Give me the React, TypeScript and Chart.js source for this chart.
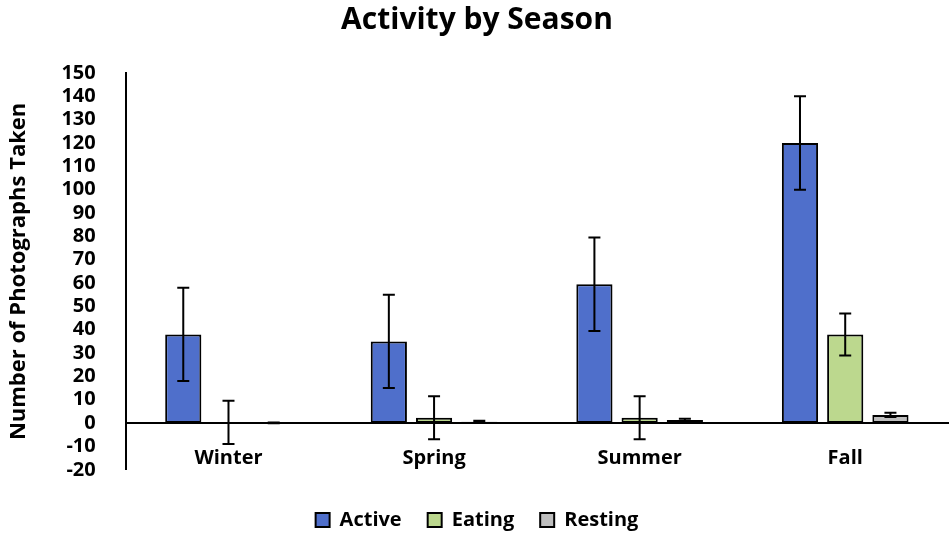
import React, { useRef, useEffect } from 'react';
import { Chart, registerables } from 'chart.js';

Chart.register(...registerables);

const seasons = ['Winter', 'Spring', 'Summer', 'Fall'];
const activeValues = [38, 35, 59.5, 120];
const activeErrors = [20, 20, 20, 20];
const eatingValues = [0.3, 2.3, 2.3, 38];
const eatingErrors = [9.3, 9.2, 9.2, 9];
const restingValues = [0.1, 0.6, 1.3, 3.5];
const restingErrors = [0.2, 0.4, 0.6, 0.9];

const FONT = "'Open Sans', 'Noto Sans', sans-serif";

const errorBars = {
    id: 'errorBars',
    afterDatasetsDraw(chart: any) {
        const { ctx, scales } = chart;
        const yScale = scales.y;
        ctx.save();
        ctx.strokeStyle = '#000';
        ctx.lineWidth = 2;
        chart.data.datasets.forEach((ds: any, i: number) => {
            const meta = chart.getDatasetMeta(i);
            meta.data.forEach((bar: any, j: number) => {
                const v = ds.data[j];
                const e = ds.errors[j];
                const top = yScale.getPixelForValue(v + e);
                const bot = yScale.getPixelForValue(v - e);
                const x = bar.x;
                ctx.beginPath();
                ctx.moveTo(x, top);
                ctx.lineTo(x, bot);
                ctx.moveTo(x - 6, top);
                ctx.lineTo(x + 6, top);
                ctx.moveTo(x - 6, bot);
                ctx.lineTo(x + 6, bot);
                ctx.stroke();
            });
        });
        ctx.restore();
    }
};

const BarChart: React.FC = () => {
    const canvasRef = useRef<HTMLCanvasElement>(null);

    useEffect(() => {
        if (!canvasRef.current) return;
        const ctx = canvasRef.current.getContext('2d');
        if (!ctx) return;
        const barStyle = {
            borderColor: '#000',
            borderWidth: 2,
            borderSkipped: false,
            categoryPercentage: 0.66,
            barPercentage: 0.8
        };
        const chart = new Chart(ctx, {
            type: 'bar',
            data: {
                labels: seasons,
                datasets: [
                    { label: 'Active', data: activeValues, errors: activeErrors, backgroundColor: '#4F6FCB', ...barStyle } as any,
                    { label: 'Eating', data: eatingValues, errors: eatingErrors, backgroundColor: '#BCD88E', ...barStyle } as any,
                    { label: 'Resting', data: restingValues, errors: restingErrors, backgroundColor: '#BEBEBE', ...barStyle } as any
                ]
            },
            options: {
                animation: false,
                responsive: true,
                maintainAspectRatio: false,
                layout: {
                    padding: { left: 6, right: 2, top: 0, bottom: 0 }
                },
                scales: {
                    x: {
                        position: { y: 0 } as any,
                        grid: { display: false },
                        border: { display: true, color: '#000', width: 2 },
                        ticks: {
                            color: '#000',
                            padding: 15,
                            font: { family: FONT, size: 20, weight: 'bold' }
                        }
                    },
                    y: {
                        min: -20,
                        max: 150,
                        grid: { display: false },
                        border: { display: true, color: '#000', width: 2 },
                        ticks: {
                            stepSize: 10,
                            autoSkip: false,
                            color: '#000',
                            padding: 22,
                            font: { family: FONT, size: 20, weight: 'bold' }
                        },
                        title: {
                            display: true,
                            text: 'Number of Photographs Taken',
                            color: '#000',
                            padding: { top: 0, bottom: 7 },
                            font: { family: FONT, size: 22, weight: 'bold' }
                        }
                    }
                },
                plugins: {
                    title: {
                        display: true,
                        text: 'Activity by Season',
                        color: '#000',
                        padding: { top: 2, bottom: 35 },
                        font: { family: FONT, size: 30, weight: 'bold' }
                    },
                    legend: {
                        position: 'bottom',
                        title: {
                            display: true,
                            text: ' ',
                            padding: { top: 0, bottom: 13 },
                            font: { size: 1 }
                        },
                        labels: {
                            color: '#000',
                            boxWidth: 14,
                            boxHeight: 14,
                            padding: 26,
                            font: { family: FONT, size: 20, weight: 'bold' }
                        }
                    },
                    tooltip: { enabled: false }
                }
            },
            plugins: [errorBars]
        });
        return () => {
            chart.destroy();
        };
    }, []);

    return <canvas ref={canvasRef}></canvas>;
};

export default function App() {
    return (
        <div style={{ position: 'absolute', left: 0, top: 0, width: 950, height: 540, background: '#fff' }}>
            <BarChart />
        </div>
    );
}
